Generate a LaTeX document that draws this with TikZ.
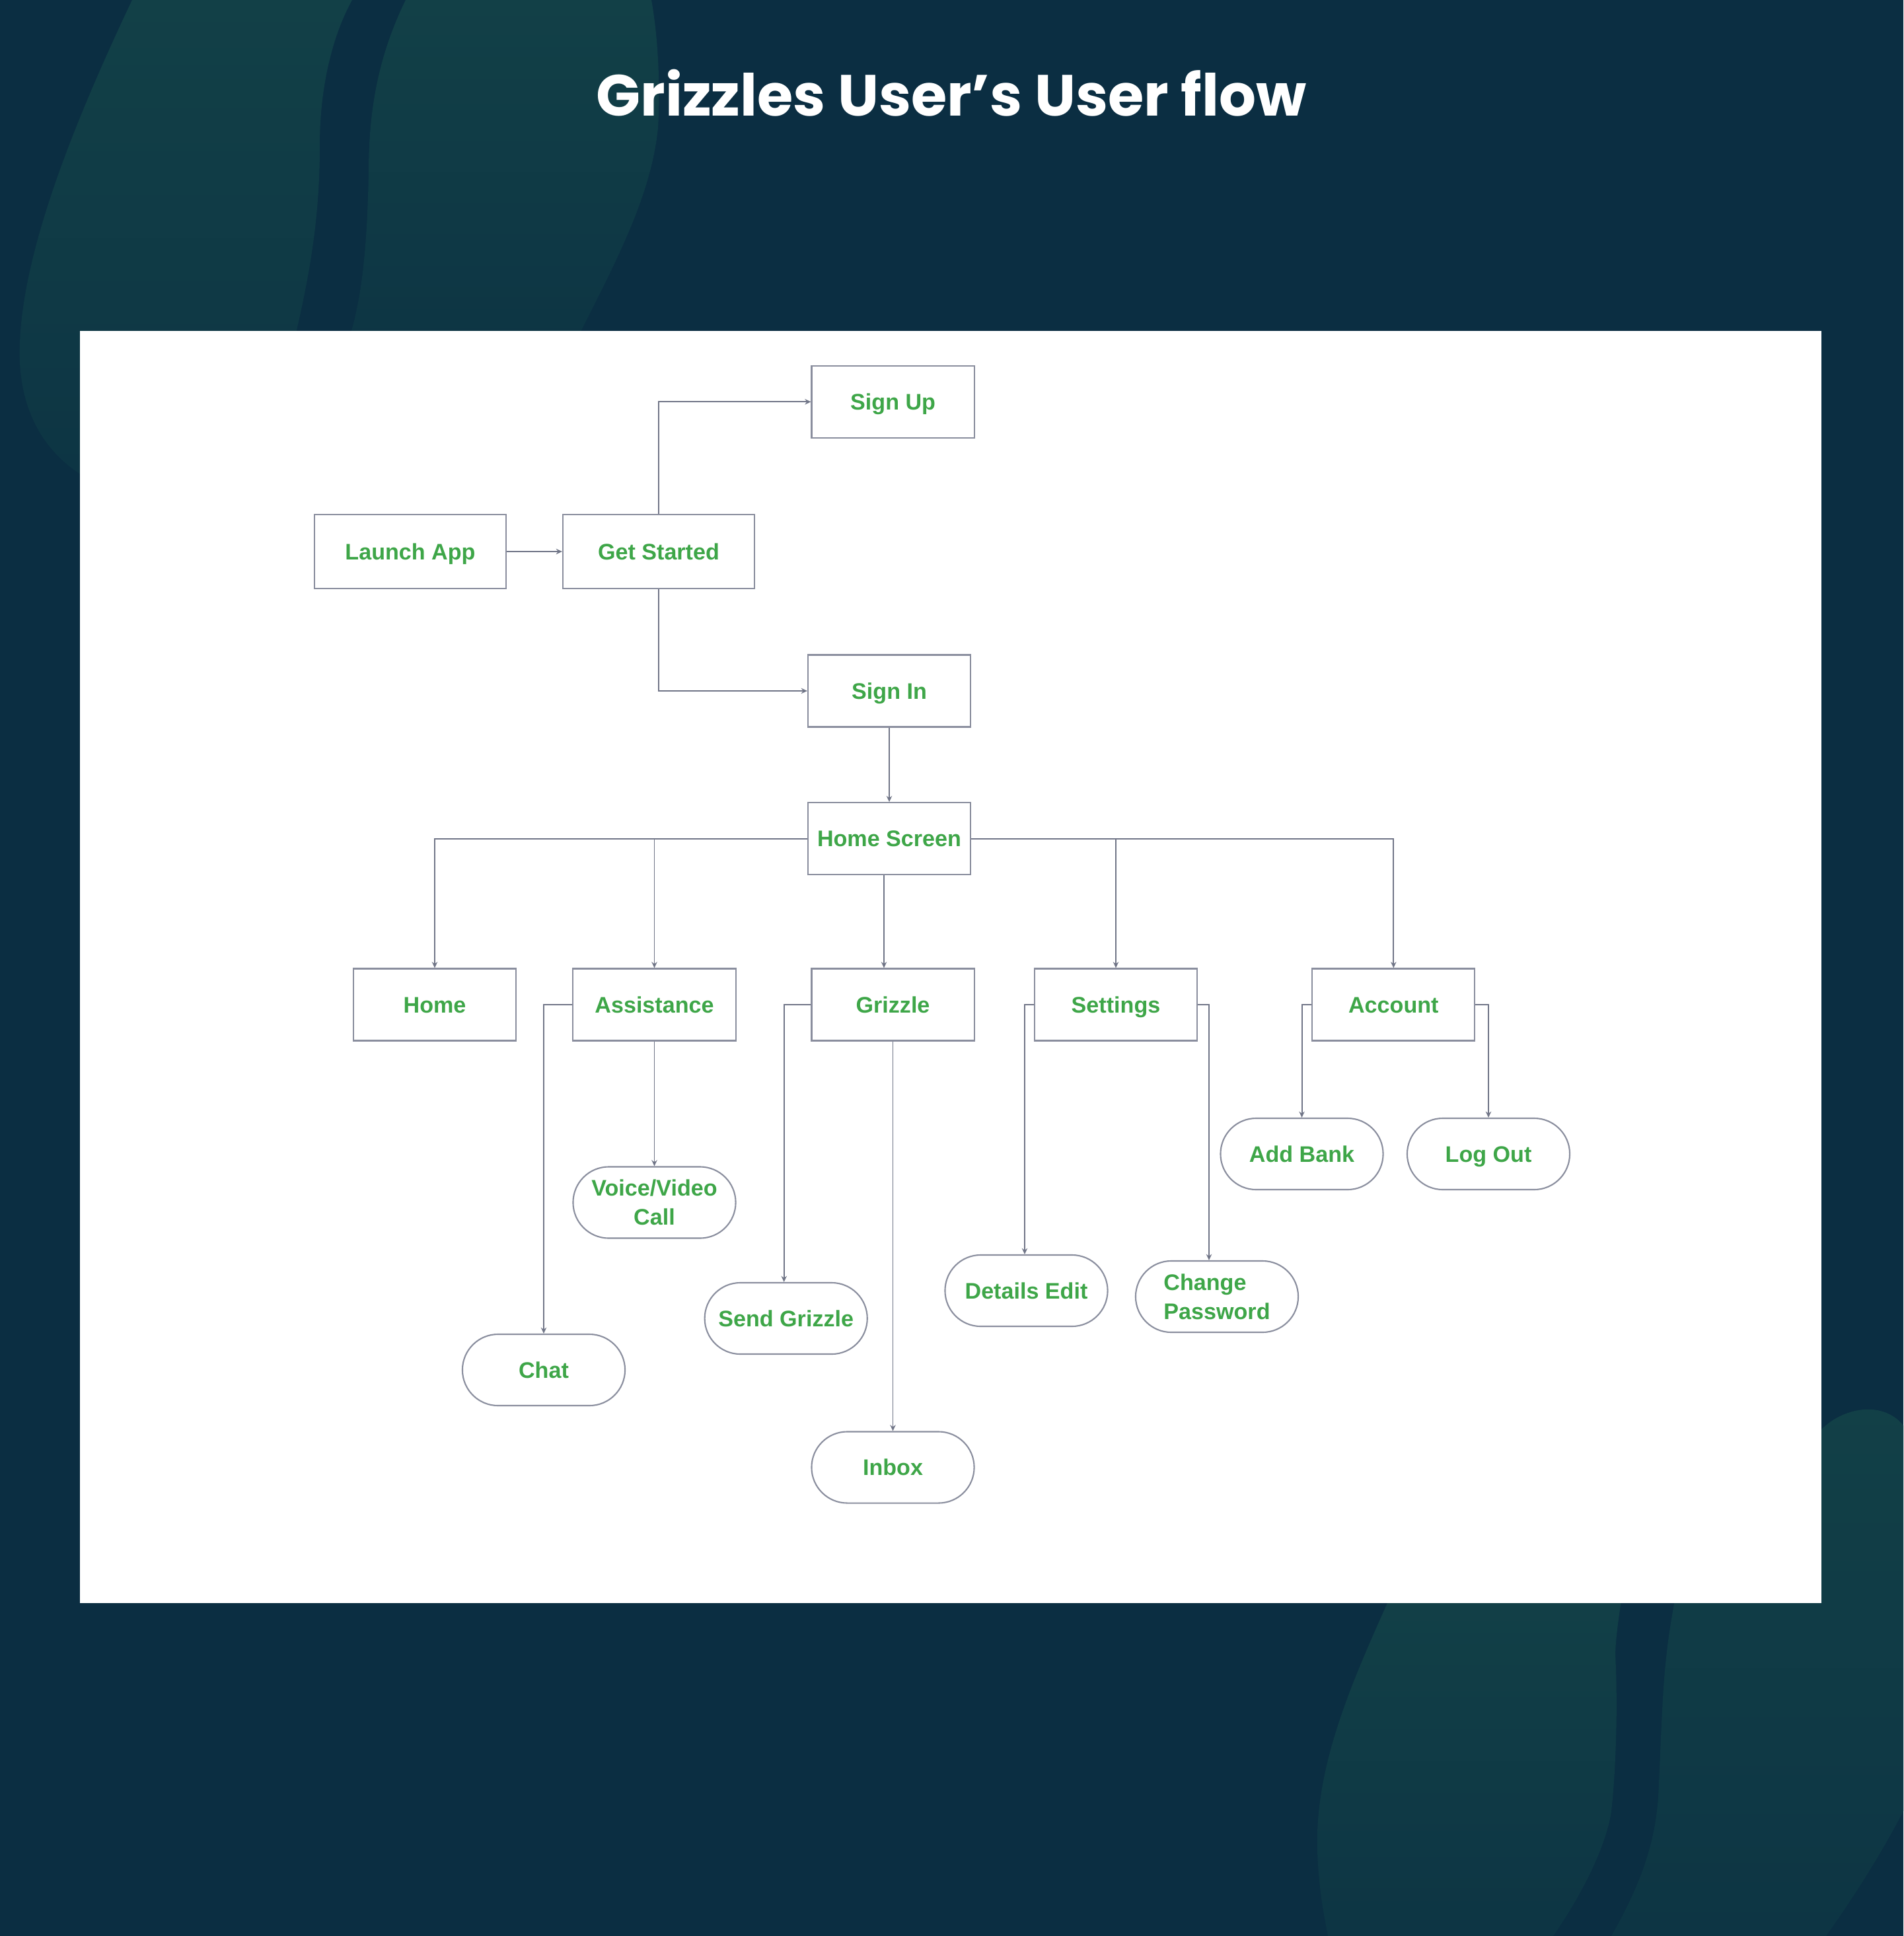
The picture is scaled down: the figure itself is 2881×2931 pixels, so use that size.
\documentclass[tikz,border=0pt]{standalone}
\usepackage{fontspec}
\setmainfont{Liberation Sans}
\newfontfamily\titlefont{Poppins}
\usetikzlibrary{arrows.meta}
\definecolor{bgnavy}{RGB}{11,46,66}
\definecolor{blobtop}{RGB}{18,64,71}
\definecolor{blobbot}{RGB}{13,53,68}
\definecolor{nodegreen}{RGB}{62,166,72}
\definecolor{boxgray}{RGB}{138,142,158}
\definecolor{linegray}{RGB}{112,117,135}
\tikzset{
  flowbox/.style={draw=boxgray, line width=0.6pt, fill=white, minimum width=2.46cm, minimum height=1.09cm,
    inner sep=2pt, font=\fontsize{9.7}{12.5}\selectfont\bfseries, text=nodegreen, align=center,
    text height=6.95pt, text depth=0pt},
  widebox/.style={flowbox, minimum width=2.9cm, minimum height=1.12cm},
  pillbox/.style={flowbox, rounded corners=0.54cm, minimum height=1.08cm},
  twoline/.style={text height=, text depth=},
  conn/.style={draw=linegray, line width=0.55pt, -{Stealth[length=2.6pt,width=2.4pt]}},
  blob/.style={top color=blobtop, bottom color=blobbot, draw=none}
}
\begin{document}
\begin{tikzpicture}[x=0.01cm,y=-0.01cm]
\useasboundingbox (0,0) rectangle (2881,2931);
\fill[bgnavy] (0,0) rectangle (2881,2931);
% background blobs, top left
\shade[blob] (200,0) .. controls (110,190) and (35,380) .. (30,520)
  .. controls (26,610) and (60,680) .. (125,720) -- (440,720) -- (449,500)
  .. controls (472,400) and (484,320) .. (484,220) .. controls (484,140) and (500,60) .. (533,0) -- cycle;
\shade[blob] (614,0) .. controls (575,80) and (558,160) .. (558,260)
  .. controls (556,360) and (550,450) .. (526,520) -- (870,520)
  .. controls (930,400) and (985,300) .. (996,194) .. controls (1000,120) and (995,50) .. (986,0) -- cycle;
% background blobs, bottom right
\shade[blob] (2110,2400) -- (2100,2427) .. controls (2040,2560) and (1990,2680) .. (1994,2802)
  .. controls (1996,2860) and (2004,2900) .. (2010,2931) -- (2351,2931)
  .. controls (2400,2860) and (2432,2790) .. (2439,2742) .. controls (2448,2660) and (2448,2560) .. (2445,2505)
  .. controls (2446,2470) and (2452,2440) .. (2457,2400) -- cycle;
\shade[blob] (2756,2165) .. controls (2790,2130) and (2850,2120) .. (2881,2158) -- (2881,2742)
  .. controls (2840,2820) and (2800,2880) .. (2764,2931) -- (2439,2931)
  .. controls (2485,2850) and (2505,2790) .. (2510,2720) .. controls (2514,2640) and (2516,2560) .. (2522,2510)
  .. controls (2526,2470) and (2532,2440) .. (2539,2400) -- (2756,2400) -- cycle;
% title
\node[font=\titlefont\fontsize{25}{30}\selectfont\bfseries, text=white, anchor=base] (title) at (1440,176) {Grizzles User’s User flow};
% white panel
\fill[white] (121,501) rectangle (2757,2427);
% nodes
\node[flowbox] (signup) at (1351.6,608.3) {Sign Up};
\node[widebox] (launch) at (621,835) {Launch App};
\node[widebox] (started) at (997,835) {Get Started};
\node[flowbox] (signin) at (1346,1046) {Sign In};
\node[flowbox] (homescreen) at (1346,1269.7) {Home Screen};
\node[flowbox] (home) at (658,1521) {Home};
\node[flowbox] (assist) at (990.5,1521) {Assistance};
\node[flowbox] (grizzle) at (1351.5,1521) {Grizzle};
\node[flowbox] (settings) at (1689,1521) {Settings};
\node[flowbox] (account) at (2109.3,1521) {Account};
\node[pillbox, twoline] (voice) at (990.5,1820.5) {Voice/Video\\Call};
\node[pillbox] (chat) at (823,2074) {Chat};
\node[pillbox] (send) at (1189.7,1996) {Send Grizzle};
\node[pillbox] (inbox) at (1351.5,2221.5) {Inbox};
\node[pillbox] (details) at (1553.5,1954) {Details Edit};
\node[pillbox, twoline, align=left] (password) at (1842,1963) {Change\\Password};
\node[pillbox] (addbank) at (1970.5,1747) {Add Bank};
\node[pillbox] (logout) at (2253,1747) {Log Out};
% connectors
\draw[conn] (launch) -- (started);
\draw[conn] (started.north) |- (signup.west);
\draw[conn] (started.south) |- (signin.west);
\draw[conn] (signin) -- (homescreen);
\draw[conn] (homescreen.west) -| (home.north);
\draw[conn] (homescreen.west) -| (assist.north);
\draw[conn] ([xshift=-0.08cm]homescreen.south) -- ([xshift=-0.08cm]homescreen.south |- grizzle.north);
\draw[conn] (homescreen.east) -| (settings.north);
\draw[conn] (homescreen.east) -| (account.north);
\draw[conn] (assist) -- (voice);
\draw[conn] (assist.west) -| (chat.north);
\draw[conn] (grizzle.west) -| ([xshift=-0.03cm]send.north);
\draw[conn] (grizzle) -- (inbox);
\draw[conn] (settings.west) -| ([xshift=-0.025cm]details.north);
\draw[conn] (settings.east) -| ([xshift=-0.12cm]password.north);
\draw[conn] (account.west) -| (addbank.north);
\draw[conn] (account.east) -| (logout.north);
\end{tikzpicture}
\end{document}
